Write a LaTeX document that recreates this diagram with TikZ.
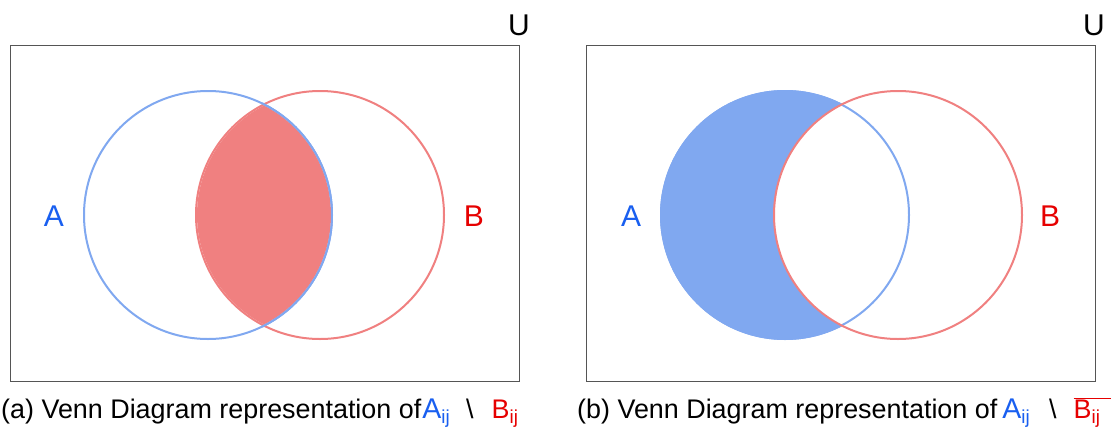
\documentclass[tikz,border=0pt]{standalone}
\usepackage{fontspec}
\setmainfont{Liberation Sans}
\usepackage{xcolor}
\definecolor{ablue}{RGB}{128,168,240}
\definecolor{bred}{RGB}{240,128,128}
\definecolor{tblue}{RGB}{25,95,240}
\definecolor{tred}{RGB}{230,0,0}
\definecolor{frame}{RGB}{85,85,85}
\newcommand{\bigA}{{\fontsize{28.5}{27}\selectfont A}}
\begin{document}
\begin{tikzpicture}[x=1pt,y=-1pt,
  universe/.style={draw=frame,line width=1.3pt},
  setA/.style={draw=ablue,line width=2pt},
  setB/.style={draw=bred,line width=2pt},
  biglabel/.style={font=\fontsize{30}{30}\selectfont,inner sep=0pt},
  captext/.style={font=\fontsize{26.9}{27}\selectfont,inner sep=0pt,anchor=base west}]
\useasboundingbox[fill=white] (0,0) rectangle (1112,429);
% ---------- panel (a)
\node[universe,minimum width=509pt,minimum height=336pt,anchor=north west,inner sep=0pt] (Ua) at (10,45) {};
\coordinate (cA1) at (208,215);
\coordinate (cB1) at (320,215);
\draw[setA] (cA1) circle[radius=124pt];
\draw[setB] (cB1) circle[radius=124pt];
\begin{scope}
  \clip (cA1) circle[radius=123pt];
  \fill[bred] (cB1) circle[radius=123pt];
\end{scope}
\begin{scope}
  \clip (cB1) circle[radius=126pt];
  \draw[setA] (cA1) circle[radius=124pt];
\end{scope}
\node[biglabel,text=tblue] (la1) at (54,216) {A};
\node[biglabel,text=tred] (lb1) at (474,216) {B};
\node[biglabel,anchor=south] (u1) at (519,36) {U};
\node[captext] (capa) at (1,418) {(a) Venn Diagram representation of\hspace{1pt}\textcolor{tblue}{\bigA\textsubscript{ij}}\hspace{16pt}\textbackslash\hspace{18pt}\textcolor{tred}{B\textsubscript{ij}}};
% ---------- panel (b)
\node[universe,minimum width=509pt,minimum height=336pt,anchor=north west,inner sep=0pt] (Ub) at (586,45) {};
\coordinate (cA2) at (785,215);
\coordinate (cB2) at (898,215);
\fill[ablue] (cA2) circle[radius=125pt];
\fill[white] (cB2) circle[radius=124pt];
\draw[setA] (cA2) circle[radius=124pt];
\draw[setB] (cB2) circle[radius=124pt];
\node[biglabel,text=tblue] (la2) at (631,216) {A};
\node[biglabel,text=tred] (lb2) at (1050,216) {B};
\node[biglabel,anchor=south] (u2) at (1094,36) {U};
\node[captext] (capb) at (577,418) {(b) Venn Diagram representation of\hspace{5pt}\textcolor{tblue}{\bigA\textsubscript{ij}}\hspace{19pt}\textbackslash\hspace{17pt}\textcolor{tred}{$\overline{\mbox{B\textsubscript{ij}\hspace{10pt}}}$}};
\end{tikzpicture}
\end{document}
